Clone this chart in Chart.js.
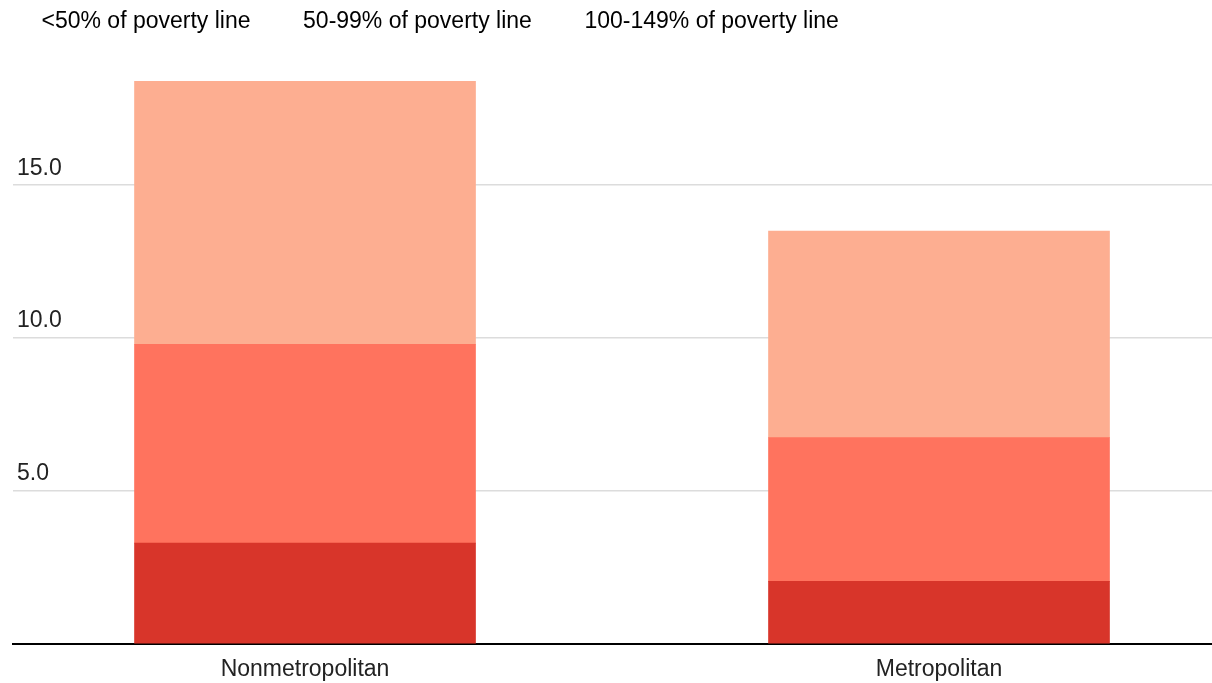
<!DOCTYPE html>
<html>
<head>
<meta charset="utf-8">
<script src="https://cdn.jsdelivr.net/npm/chart.js@4/dist/chart.umd.min.js"></script>
<style>
  html, body { margin: 0; padding: 0; background: #fff; }
  #wrap { width: 1212px; height: 683px; }
</style>
</head>
<body>
<div id="wrap"><canvas id="chart" width="1212" height="683"></canvas></div>
<script>
const categories = ['Nonmetropolitan', 'Metropolitan']
const seriesNames = ['<50% of poverty line', '50-99% of poverty line', '100-149% of poverty line']
const below50 = [3.3, 2.05]
const from50to99 = [6.5, 4.7]
const from100to149 = [8.6, 6.75]
const yTicks = [5, 10, 15]
const colors = ['#d8352a', '#ff735e', '#fdae91']

const FONT = 'Liberation Sans, Arial, Helvetica, sans-serif'

const seriesValues = [below50, from50to99, from100to149]
const datasets = seriesValues.map((vals, i) => ({
    label: seriesNames[i],
    data: vals.map((v, j) => ({ x: j, y: v })),
    backgroundColor: colors[i],
    borderWidth: 0,
    barThickness: 341
}))

new Chart(document.getElementById('chart'), {
    type: 'bar',
    data: { datasets },
    options: {
        responsive: false,
        animation: false,
        devicePixelRatio: 1,
        layout: { padding: { left: -11, right: 0, top: 0, bottom: -13 } },
        plugins: {
            tooltip: { enabled: false },
            legend: {
                position: 'top',
                align: 'start',
                labels: {
                    font: { family: FONT, size: 23 },
                    color: '#222',
                    boxWidth: 31,
                    boxHeight: 22,
                    padding: 10,
                    generateLabels: chart => chart.data.datasets.map((d, i) => ({
                        text: d.label,
                        fillStyle: 'rgba(0,0,0,0)',
                        strokeStyle: 'rgba(0,0,0,0)',
                        lineWidth: 0,
                        datasetIndex: i
                    }))
                }
            }
        },
        scales: {
            x: {
                type: 'linear',
                stacked: true,
                offset: false,
                min: -0.4606,
                max: 1.4306,
                afterBuildTicks: axis => { axis.ticks = categories.map((c, i) => ({ value: i })) },
                ticks: {
                    font: { family: FONT, size: 23, lineHeight: 1.739 },
                    color: '#222',
                    padding: 6,
                    callback: v => categories[v] ?? ''
                },
                grid: { display: false, drawTicks: false },
                border: { display: true, color: '#000', width: 2 }
            },
            y: {
                stacked: true,
                min: 0,
                max: 19.65,
                afterBuildTicks: axis => { axis.ticks = [0, ...yTicks].map(v => ({ value: v })) },
                afterFit: axis => { axis.width = 24 },
                ticks: {
                    mirror: true,
                    padding: 4,
                    labelOffset: -17,
                    font: { family: FONT, size: 23 },
                    color: '#222',
                    callback: v => v === 0 ? '' : v.toFixed(1)
                },
                grid: {
                    drawTicks: false,
                    color: ctx => ctx.tick && ctx.tick.value === 0 ? 'rgba(0,0,0,0)' : '#dcdcdc',
                    lineWidth: 1.5
                },
                border: { display: false }
            }
        }
    }
})
</script>
</body>
</html>
